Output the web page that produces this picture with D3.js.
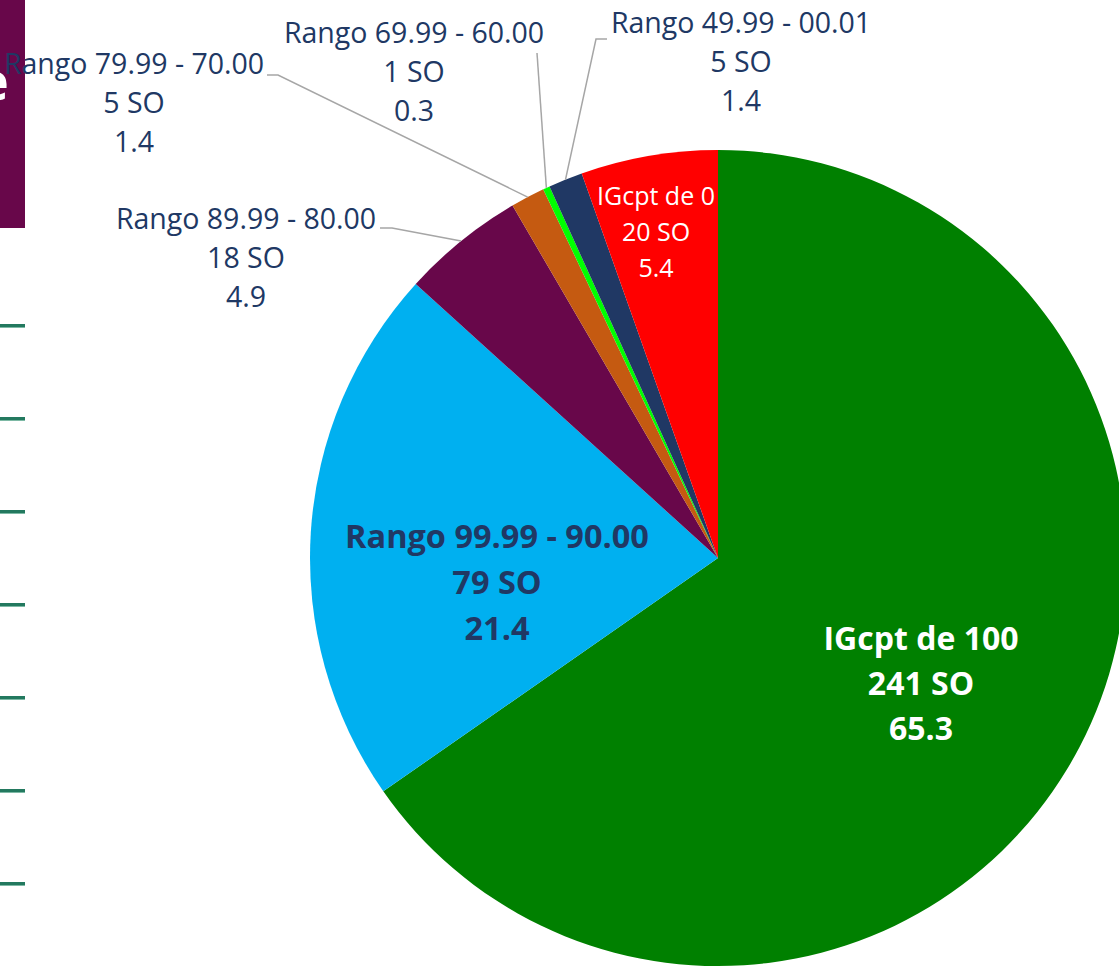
<!DOCTYPE html>
<meta charset="utf-8">
<head>
    <title>IGcpt</title>
</head>
<style>
    body { margin: 0; background: #fff; }
    svg { display: block; font-family: "Open Sans", sans-serif; }
</style>
<div id="chart"></div>
<script src="https://d3js.org/d3.v7.min.js"></script>
<script>

    // data
    var categories = ["IGcpt de 100", "Rango 99.99 - 90.00", "Rango 89.99 - 80.00",
                      "Rango 79.99 - 70.00", "Rango 69.99 - 60.00", "Rango 49.99 - 00.01", "IGcpt de 0"];
    var counts = [241, 79, 18, 5, 1, 5, 20];
    var percents = ["65.3", "21.4", "4.9", "1.4", "0.3", "1.4", "5.4"];
    var colors = ["#008000", "#00B0F0", "#68074A", "#C55A11", "#00FF00", "#203864", "#FF0000"];

    // label layout, relative to pie centre (first baseline), plus leader elbows
    var labelLayout = [
        {dx: 203, dy: 92, fill: "#fff", bold: true, size: 32, gap: 45},
        {dx: -221, dy: -10, fill: "#203864", bold: true, size: 32.5, gap: 46},
        {dx: -472, dy: -329, fill: "#203864", bold: false, size: 28.5, gap: 39, elbow: [-326, -330], edge: -338},
        {dx: -584, dy: -484, fill: "#203864", bold: false, size: 28.5, gap: 39, elbow: [-440, -483], edge: -451},
        {dx: -304, dy: -515, fill: "#203864", bold: false, size: 28.5, gap: 39, elbow: [-181, -505], edge: -505, vertical: true},
        {dx: 23, dy: -525, fill: "#203864", bold: false, size: 28.5, gap: 39, elbow: [-122, -519], edge: -111},
        {dx: -62, dy: -353, fill: "#fff", bold: false, size: 25, gap: 36}
    ];

    var width = 1119, height = 968;
    var cx = 718, cy = 558, radius = 408;

    var svg = d3.select("#chart")
      .append("svg")
        .attr("width", width)
        .attr("height", height);

    // left-hand decoration (slide background)
    svg.append("rect")
        .attr("x", 0).attr("y", 0)
        .attr("width", 25).attr("height", 228)
        .attr("fill", "#68074A");
    svg.append("text")
        .attr("x", -22).attr("y", 100)
        .attr("font-size", 52).attr("font-weight", "bold")
        .attr("fill", "#fff")
        .text("e");

    var tickY = d3.range(7).map(function(i) { return 326 + i * 93; });
    svg.selectAll(".tick")
        .data(tickY)
        .enter().append("rect")
        .attr("x", 0).attr("y", function(d) { return d - 2; })
        .attr("width", 25).attr("height", 3)
        .attr("fill", "#23795F");
    svg.selectAll(".tick2")
        .data(tickY)
        .enter().append("rect")
        .attr("x", 0).attr("y", function(d) { return d + 1; })
        .attr("width", 25).attr("height", 1)
        .attr("fill", "#7DB9A5");

    var data = categories.map(function(c, i) {
        return {name: c, count: counts[i], pct: percents[i], color: colors[i], layout: labelLayout[i]};
    });

    var pie = d3.pie()
        .sort(null)
        .value(function(d) { return d.count; });

    var arc = d3.arc()
        .innerRadius(0)
        .outerRadius(radius);

    var g = svg.append("g")
        .attr("transform", "translate(" + cx + "," + cy + ")");

    var arcs = pie(data);

    g.selectAll("path.slice")
        .data(arcs)
        .enter().append("path")
        .attr("class", "slice")
        .attr("d", arc)
        .attr("fill", function(d) { return d.data.color; });

    // leader lines for the outside labels
    arcs.forEach(function(d) {
        var L = d.data.layout;
        if (!L.elbow) return;
        var mid = (d.startAngle + d.endAngle) / 2;
        var px = Math.sin(mid) * radius, py = -Math.cos(mid) * radius;
        var pts;
        if (L.vertical) {
            pts = [[px, py], L.elbow];
        } else {
            pts = [[px, py], L.elbow, [L.edge, L.elbow[1]]];
        }
        g.append("path")
            .attr("d", d3.line()(pts))
            .attr("fill", "none")
            .attr("stroke", "#A6A6A6")
            .attr("stroke-width", 1.5);
    });

    // labels
    arcs.forEach(function(d) {
        var L = d.data.layout;
        var t = g.append("text")
            .attr("text-anchor", "middle")
            .attr("font-size", L.size)
            .attr("font-weight", L.bold ? "bold" : "normal")
            .attr("fill", L.fill);
        [d.data.name, d.data.count + " SO", d.data.pct].forEach(function(line, i) {
            t.append("tspan")
                .attr("x", L.dx)
                .attr("y", L.dy + i * L.gap)
                .text(line);
        });
    });
</script>
